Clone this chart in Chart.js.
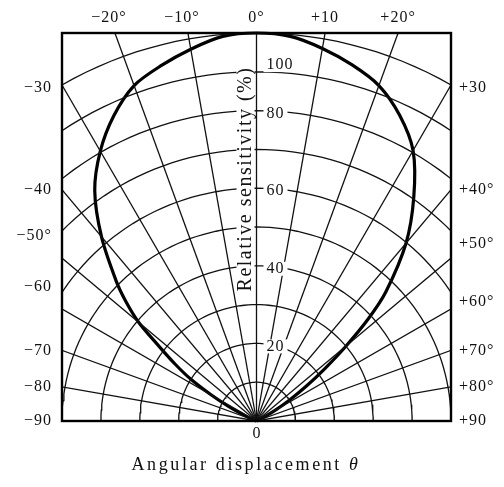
<!DOCTYPE html>
<html>
<head>
<meta charset="utf-8">
<script src="https://cdn.jsdelivr.net/npm/chart.js@4.4.1/dist/chart.umd.min.js"></script>
<style>
  html, body { margin: 0; padding: 0; background: #fff; }
</style>
</head>
<body>
<canvas id="polarChart" width="504" height="487"></canvas>
<script>
// angular displacement (deg) and relative sensitivity (%)
const angles = [-90, -85, -80, -75, -70, -67.5, -65, -62.5, -60, -57.5, -55, -52.5, -50, -47.5, -45, -40, -35, -30, -25, -20, -15, -10, -5,
  0, 5, 10, 15, 20, 25, 30, 35, 40, 45, 47.5, 50, 52.5, 55, 57.5, 60, 62.5, 65, 70, 75, 80, 85, 90];
const sensitivity = [0, 0, 0, 0, 0, 0, 3, 8, 13.5, 20, 25.5, 31.5, 39.5, 45.5, 51, 62, 72.5, 80.3, 86.8, 92, 94.8, 97.3, 99.5,
  100, 99.5, 97.5, 95, 92, 87, 80.5, 70.5, 59.8, 47, 39, 30, 22, 15.5, 10, 5.5, 2, 0, 0, 0, 0, 0, 0];

// grid
const gridRadii = [10, 20, 30, 40, 50, 60, 70, 80, 90, 100];
const gridAngles = [-80, -70, -60, -50, -40, -30, -20, -10, 0, 10, 20, 30, 40, 50, 60, 70, 80];

// tick labels
const topAngles = [-20, -10, 0, 10, 20];
const topLabels = ['\u221220\u00b0', '\u221210\u00b0', '0\u00b0', '+10', '+20\u00b0'];
const sideAngles = [30, 40, 50, 60, 70, 80, 90];
const leftLabels = ['\u221230', '\u221240', '\u221250\u00b0', '\u221260', '\u221270', '\u221280', '\u221290'];
const rightLabels = ['+30', '+40\u00b0', '+50\u00b0', '+60\u00b0', '+70\u00b0', '+80\u00b0', '+90'];
const radialTicks = [20, 40, 60, 80, 100];

const rad = d => d * Math.PI / 180;
const toXY = (deg, r) => ({ x: r * Math.sin(rad(deg)), y: r * Math.cos(rad(deg)) });

const datasets = [];
gridRadii.forEach(r => {
  const pts = [];
  for (let a = -90; a <= 90; a += 2) pts.push(toXY(a, r));
  datasets.push({ data: pts, borderColor: '#111', borderWidth: 1.3, pointRadius: 0, clip: 0 });
});
gridAngles.forEach(a => {
  datasets.push({ data: [toXY(a, 0), toXY(a, 160)], borderColor: '#111', borderWidth: 1.3, pointRadius: 0, clip: 0 });
});
datasets.push({
  data: angles.map((a, i) => toXY(a, sensitivity[i])),
  borderColor: '#000', borderWidth: 3.2, pointRadius: 0, tension: 0.3, clip: 4
});

const serif = '"Liberation Serif", "DejaVu Serif", serif';
// label nudges where the printed labels sit off their line
const topNudge = { '-20': -6, '-10': -6 };
const leftNudge = { 30: 3, 50: -22, 60: -22 };
const rightNudge = { 30: 3, 50: -14, 60: -7 };

const decorations = {
  id: 'decorations',
  afterDatasetsDraw(chart) {
    const { ctx, chartArea: ca, scales: { x, y } } = chart;
    const x0 = x.getPixelForValue(0);
    ctx.save();
    ctx.strokeStyle = '#000';
    ctx.lineWidth = 2.4;
    ctx.strokeRect(ca.left, ca.top, ca.right - ca.left, ca.bottom - ca.top);

    ctx.fillStyle = '#111';
    ctx.font = '16px ' + serif;
    ctx.textBaseline = 'middle';
    ctx.letterSpacing = '1px';

    // top angle labels
    ctx.textAlign = 'center';
    topAngles.forEach((a, i) => {
      const px = x.getPixelForValue(100 * Math.tan(rad(a))) + (topNudge[a] || 0);
      ctx.fillText(topLabels[i], px, ca.top - 15);
    });

    // side angle labels
    sideAngles.forEach((a, i) => {
      const yv = a === 90 ? 0 : 50 / Math.tan(rad(a));
      const py = y.getPixelForValue(yv);
      ctx.textAlign = 'right';
      ctx.fillText(leftLabels[i], ca.left - 10, py + (leftNudge[a] || 0));
      ctx.textAlign = 'left';
      ctx.fillText(rightLabels[i], ca.right + 8, py + (rightNudge[a] || 0));
    });

    // radial value labels along the 0 deg line
    ctx.textAlign = 'left';
    radialTicks.forEach(r => {
      const py = y.getPixelForValue(Math.min(r, 92.5)) + 3;
      const t = String(r);
      const w = ctx.measureText(t).width;
      ctx.fillStyle = '#fff';
      ctx.fillRect(x0 + 7, py - 7, w + 6, 14);
      ctx.fillStyle = '#111';
      ctx.fillText(t, x0 + 10, py);
    });

    // y title
    ctx.save();
    ctx.translate(x0 - 11, 179);
    ctx.rotate(-Math.PI / 2);
    ctx.font = '20px ' + serif;
    ctx.letterSpacing = '1.5px';
    ctx.textAlign = 'center';
    const yt = 'Relative sensitivity (%)';
    const tw = ctx.measureText(yt).width;
    ctx.fillStyle = '#fff';
    ctx.fillRect(-tw / 2 - 2, -9, tw + 4, 18);
    ctx.fillStyle = '#111';
    ctx.fillText(yt, 0, 0);
    ctx.restore();

    // bottom labels
    ctx.textAlign = 'center';
    ctx.letterSpacing = '0px';
    ctx.fillText('0', x0, ca.bottom + 13);
    ctx.letterSpacing = '2.6px';
    ctx.font = '18px ' + serif;
    const t1 = 'Angular displacement ';
    const w1 = ctx.measureText(t1).width;
    ctx.font = 'italic 18px ' + serif;
    const w2 = ctx.measureText('\u03b8').width;
    const sx = 246 - (w1 + w2) / 2;
    ctx.textAlign = 'left';
    ctx.font = '18px ' + serif;
    ctx.fillText(t1, sx, 465);
    ctx.font = 'italic 18px ' + serif;
    ctx.fillText('\u03b8', sx + w1, 465);
    ctx.restore();
  }
};

new Chart(document.getElementById('polarChart').getContext('2d'), {
  type: 'scatter',
  data: { datasets: datasets.map(d => Object.assign({ showLine: true, fill: false }, d)) },
  options: {
    responsive: false,
    animation: false,
    layout: { padding: { left: 62, right: 53, top: 33, bottom: 66 } },
    scales: {
      x: { type: 'linear', min: -50, max: 50, display: false },
      y: { type: 'linear', min: 0, max: 100, display: false }
    },
    plugins: { legend: { display: false }, tooltip: { enabled: false } }
  },
  plugins: [decorations]
});
</script>
</body>
</html>
